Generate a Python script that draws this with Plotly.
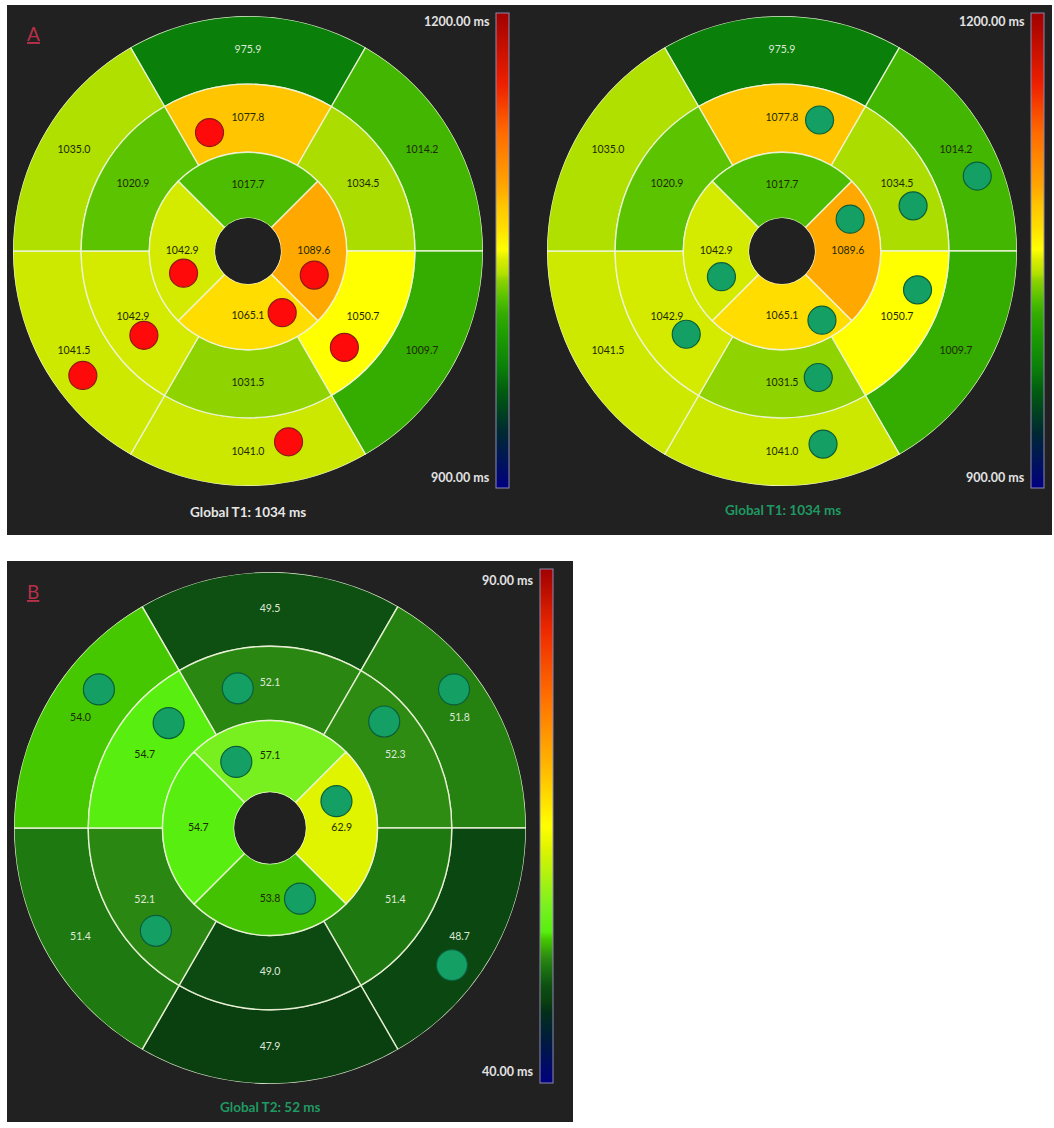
import plotly.graph_objects as go

# ---------------- data ----------------
theta_six = [90, 30, 330, 270, 210, 150]      # basal / mid segment centres (deg)
theta_four = [90, 0, 270, 180]                # apical segment centres (deg)

t1_basal = [975.9, 1014.2, 1009.7, 1041.0, 1041.5, 1035.0]
t1_mid = [1077.8, 1034.5, 1050.7, 1031.5, 1042.9, 1020.9]
t1_apical = [1017.7, 1089.6, 1065.1, 1042.9]
t1_global = 1034
t1_range = [900.0, 1200.0]

t2_basal = [49.5, 51.8, 48.7, 47.9, 51.4, 54.0]
t2_mid = [52.1, 52.3, 51.4, 49.0, 52.1, 54.7]
t2_apical = [57.1, 62.9, 53.8, 54.7]
t2_global = 52
t2_range = [40.0, 90.0]

# marker dots: angle (deg) and radius as fraction of outer radius
dots_a_left_theta = [108, 199, -20, -61, 219, -45, 217, -78]
dots_a_left_r = [0.53, 0.29, 0.30, 0.30, 0.57, 0.58, 0.88, 0.83]
dots_a_right_theta = [74, 21, 19, 25, 203, -16, -60, 221, -74, -78]
dots_a_right_r = [0.58, 0.89, 0.59, 0.32, 0.28, 0.60, 0.34, 0.54, 0.56, 0.84]
dots_b_theta = [141, 134, 103, 37, 43, 117, 22, -67, 222, -37]
dots_b_r = [0.86, 0.57, 0.56, 0.90, 0.61, 0.29, 0.28, 0.30, 0.60, 0.89]

# ---------------- style ----------------
W, H = 1054, 1128
R_HOLE, R_APICAL, R_MID, R_OUT = 0.14, 0.42, 0.71, 1.0
FONT = "Lato"
PANEL_BG = "#212121"
GREEN_TXT = "#1f9a62"

scale_t1 = [
    [0.0, "#000080"], [0.12, "#002a30"], [0.2, "#005a10"], [0.253, "#0a800a"],
    [0.33, "#20a000"], [0.366, "#34ac00"], [0.392, "#4cbd00"], [0.403, "#5cc300"],
    [0.438, "#8ed300"], [0.45, "#b0e000"], [0.47, "#cce800"], [0.48, "#d8ec00"],
    [0.502, "#ffff00"], [0.55, "#ffdd00"], [0.593, "#ffc600"], [0.632, "#ffa800"],
    [0.75, "#ff6a00"], [0.85, "#ee2000"], [1.0, "#a00000"],
]
scale_t2 = [
    [0.0, "#000080"], [0.08, "#001a40"], [0.14, "#033018"], [0.158, "#0a3f10"],
    [0.18, "#0c4a12"], [0.19, "#0e5012"], [0.228, "#1e7a10"], [0.246, "#2e8c12"],
    [0.276, "#42c200"], [0.28, "#46c800"], [0.294, "#58ee10"], [0.342, "#78f020"],
    [0.458, "#e0f400"], [0.5, "#ffff00"], [0.6, "#ffc000"], [0.75, "#ff7000"],
    [0.88, "#ee2a00"], [1.0, "#a00000"],
]


def px_x(x):
    return x / W


def px_y(y):
    return 1 - y / H


fig = go.Figure()


def add_bullseye(pid, basal, mid, apical, rng, cscale, light_below,
                 cb_x, cb_top, cb_bottom, dot_theta, dot_r, dot_fill, dot_line, dot_size):
    values = basal + mid + apical
    thetas = theta_six + theta_six + theta_four
    widths = [60] * 6 + [60] * 6 + [90] * 4
    bases = [R_MID] * 6 + [R_APICAL] * 6 + [R_HOLE] * 4
    rs = [R_OUT - R_MID] * 6 + [R_MID - R_APICAL] * 6 + [R_APICAL - R_HOLE] * 4
    fig.add_trace(go.Barpolar(
        r=rs, base=bases, theta=thetas, width=widths, subplot=pid,
        marker=dict(
            color=values, colorscale=cscale, cmin=rng[0], cmax=rng[1],
            line=dict(color="rgba(240,245,220,0.9)", width=1.4),
            showscale=True,
            colorbar=dict(
                x=px_x(cb_x), xanchor="left", xpad=0,
                y=px_y(cb_top), yanchor="top", ypad=0,
                lenmode="pixels", len=cb_bottom - cb_top,
                thickness=13, outlinecolor="#9088b0", outlinewidth=1,
                showticklabels=False, ticks="",
            ),
        ),
        hoverinfo="skip", showlegend=False,
    ))
    # value labels
    label_r = ([(R_MID + R_OUT) / 2] * 6 + [(R_APICAL + R_MID) / 2] * 6
               + [(R_HOLE + R_APICAL) / 2] * 4)
    colors = ["#dfe8d8" if v < light_below else "#1e2a00" for v in values]
    fig.add_trace(go.Scatterpolar(
        r=label_r, theta=thetas, mode="text", subplot=pid,
        text=[f"{v:.1f}" for v in values],
        textfont=dict(family=FONT, size=10.5, color=colors),
        hoverinfo="skip", showlegend=False,
    ))
    # dots
    fig.add_trace(go.Scatterpolar(
        r=dot_r, theta=dot_theta, mode="markers", subplot=pid,
        marker=dict(size=dot_size, color=dot_fill, line=dict(color=dot_line, width=1.2)),
        hoverinfo="skip", showlegend=False,
    ))
    # small tick stub outside the circle
    fig.add_trace(go.Scatterpolar(
        r=[1.0, 1.045], theta=[120, 120], mode="lines", subplot=pid,
        line=dict(color="#808080", width=1), cliponaxis=False,
        hoverinfo="skip", showlegend=False,
    ))


add_bullseye("polar", t1_basal, t1_mid, t1_apical, t1_range, scale_t1, 1000,
             496, 13, 488, dots_a_left_theta, dots_a_left_r, "#ff0a0a", "#8a1a1a", 28)
add_bullseye("polar2", t1_basal, t1_mid, t1_apical, t1_range, scale_t1, 1000,
             1031, 13, 488, dots_a_right_theta, dots_a_right_r, "#14a064", "#0b5e3a", 28)
add_bullseye("polar3", t2_basal, t2_mid, t2_apical, t2_range, scale_t2, 53,
             540, 569, 1083, dots_b_theta, dots_b_r, "#14a064", "#0b5e3a", 31)


def polar_layout(cx, cy, R):
    return dict(
        domain=dict(x=[px_x(cx - R), px_x(cx + R)], y=[px_y(cy + R), px_y(cy - R)]),
        hole=R_HOLE, bgcolor="rgba(0,0,0,0)",
        radialaxis=dict(range=[R_HOLE, R_OUT], visible=False),
        angularaxis=dict(visible=False, rotation=0, direction="counterclockwise"),
    )


annotations = []


def text_at(x, y, txt, color, size, bold=False, xanchor="center"):
    annotations.append(dict(
        x=px_x(x), y=px_y(y), xref="paper", yref="paper", xanchor=xanchor, yanchor="middle",
        text=f"<b>{txt}</b>" if bold else txt, showarrow=False,
        font=dict(family=FONT, size=size, color=color),
    ))


# panel letters
text_at(33, 33, "<u>A</u>", "#b8304a", 19)
text_at(33, 591, "<u>B</u>", "#b8304a", 19)
# colour bar end labels
fmt = "{:.2f} ms"
text_at(492, 22, fmt.format(t1_range[1]), "#e2e2e2", 12.5, True, "right")
text_at(492, 477, fmt.format(t1_range[0]), "#e2e2e2", 12.5, True, "right")
text_at(1027, 22, fmt.format(t1_range[1]), "#e2e2e2", 12.5, True, "right")
text_at(1027, 477, fmt.format(t1_range[0]), "#e2e2e2", 12.5, True, "right")
text_at(535, 580, fmt.format(t2_range[1]), "#e2e2e2", 12.5, True, "right")
text_at(535, 1071, fmt.format(t2_range[0]), "#e2e2e2", 12.5, True, "right")
# global values
text_at(248, 512, f"Global T1: {t1_global} ms", "#e6e6e6", 13.5, True)
text_at(783, 510, f"Global T1: {t1_global} ms", GREEN_TXT, 13.5, True)
text_at(270, 1107, f"Global T2: {t2_global} ms", GREEN_TXT, 13.5, True)

shapes = [
    dict(type="rect", xref="paper", yref="paper", layer="below",
         x0=px_x(7), x1=px_x(1052), y0=px_y(535), y1=px_y(5),
         fillcolor=PANEL_BG, line=dict(width=0)),
    dict(type="rect", xref="paper", yref="paper", layer="below",
         x0=px_x(7), x1=px_x(573), y0=px_y(1122), y1=px_y(561),
         fillcolor=PANEL_BG, line=dict(width=0)),
]

fig.update_layout(
    width=W, height=H, margin=dict(l=0, r=0, t=0, b=0),
    paper_bgcolor="white", plot_bgcolor="white",
    polar=polar_layout(248, 251, 235),
    polar2=polar_layout(782, 251, 235),
    polar3=polar_layout(270, 828, 256),
    annotations=annotations, shapes=shapes, showlegend=False,
)

fig.write_html("out.html")
